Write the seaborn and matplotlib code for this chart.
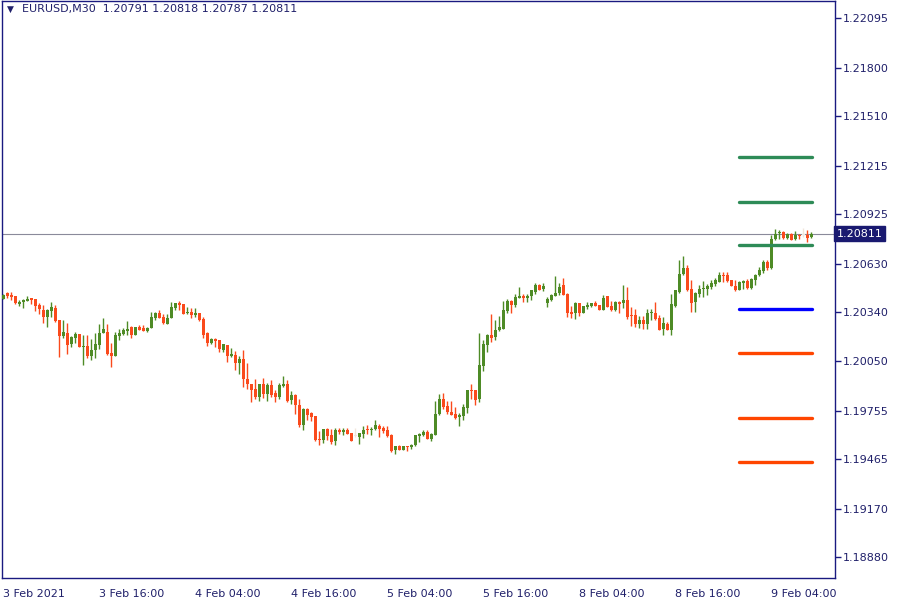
#EURUSD M30 candlestick chart with daily pivot levels

import numpy as np
import pandas as pd
import matplotlib
matplotlib.use("Agg")
import matplotlib.pyplot as plt
import seaborn as sns

# header text of the chart window
symbol = "EURUSD,M30"
last_ohlc = "1.20791 1.20818 1.20787 1.20811"

# OHLC of the M30 bars (bar 0 = first bar on the left)
opens = [
    1.20423, 1.20455, 1.20443, 1.20437, 1.20392, 1.20400, 1.20409, 1.20425, 1.20419, 1.20384,
    1.20354, 1.20314, 1.20350, 1.20366, 1.20294, 1.20201, 1.20216, 1.20153, 1.20189, 1.20210,
    1.20135, 1.20139, 1.20081, 1.20119, 1.20145, 1.20218, 1.20222, 1.20097, 1.20081, 1.20201,
    1.20210, 1.20228, 1.20252, 1.20204, 1.20252, 1.20248, 1.20230, 1.20248, 1.20308, 1.20336,
    1.20314, 1.20274, 1.20305, 1.20368, 1.20396, 1.20390, 1.20339, 1.20341, 1.20325, 1.20335,
    1.20301, 1.20217, 1.20159, 1.20181, 1.20173, 1.20118, 1.20146, 1.20080, 1.20086, 1.20038,
    1.20062, 1.19941, 1.19911, 1.19881, 1.19837, 1.19911, 1.19851, 1.19907, 1.19859, 1.19837,
    1.19903, 1.19913, 1.19817, 1.19847, 1.19787, 1.19668, 1.19763, 1.19738, 1.19722, 1.19584,
    1.19578, 1.19644, 1.19608, 1.19573, 1.19637, 1.19627, 1.19641, 1.19621, 1.19601, 1.19597,
    1.19617, 1.19647, 1.19637, 1.19643, 1.19663, 1.19653, 1.19641, 1.19607, 1.19518, 1.19542,
    1.19522, 1.19542, 1.19538, 1.19548, 1.19601, 1.19607, 1.19627, 1.19583, 1.19607, 1.19733,
    1.19822, 1.19780, 1.19747, 1.19733, 1.19717, 1.19721, 1.19770, 1.19876, 1.19876, 1.19822,
    1.20019, 1.20145, 1.20204, 1.20194, 1.20234, 1.20244, 1.20350, 1.20407, 1.20383, 1.20429,
    1.20437, 1.20429, 1.20439, 1.20463, 1.20503, 1.20483, 1.20397, 1.20417, 1.20439, 1.20459,
    1.20503, 1.20453, 1.20342, 1.20334, 1.20394, 1.20338, 1.20370, 1.20378, 1.20394, 1.20384,
    1.20354, 1.20437, 1.20378, 1.20354, 1.20404, 1.20394, 1.20417, 1.20324, 1.20324, 1.20274,
    1.20294, 1.20274, 1.20334, 1.20338, 1.20306, 1.20244, 1.20274, 1.20234, 1.20379, 1.20463,
    1.20572, 1.20606, 1.20479, 1.20403, 1.20453, 1.20479, 1.20483, 1.20493, 1.20509, 1.20523,
    1.20566, 1.20563, 1.20533, 1.20499, 1.20477, 1.20513, 1.20527, 1.20487, 1.20533, 1.20563,
    1.20588, 1.20642, 1.20606, 1.20777, 1.20817, 1.20821, 1.20785, 1.20811, 1.20777, 1.20801,
    1.20801, 1.20801, 1.20791,
]
highs = [
    1.20453, 1.20463, 1.20461, 1.20437, 1.20417, 1.20423, 1.20437, 1.20425, 1.20419, 1.20394,
    1.20384, 1.20360, 1.20402, 1.20384, 1.20294, 1.20294, 1.20280, 1.20199, 1.20224, 1.20214,
    1.20204, 1.20208, 1.20181, 1.20218, 1.20270, 1.20308, 1.20274, 1.20155, 1.20224, 1.20244,
    1.20246, 1.20288, 1.20260, 1.20252, 1.20268, 1.20264, 1.20254, 1.20344, 1.20344, 1.20354,
    1.20328, 1.20328, 1.20400, 1.20394, 1.20408, 1.20390, 1.20370, 1.20364, 1.20364, 1.20335,
    1.20311, 1.20225, 1.20189, 1.20189, 1.20173, 1.20149, 1.20146, 1.20130, 1.20110, 1.20080,
    1.20116, 1.20036, 1.19911, 1.19943, 1.19911, 1.19947, 1.19917, 1.19937, 1.19877, 1.19917,
    1.19960, 1.19937, 1.19871, 1.19853, 1.19821, 1.19771, 1.19773, 1.19748, 1.19722, 1.19632,
    1.19644, 1.19648, 1.19644, 1.19653, 1.19653, 1.19653, 1.19653, 1.19621, 1.19651, 1.19621,
    1.19661, 1.19667, 1.19657, 1.19697, 1.19673, 1.19663, 1.19661, 1.19613, 1.19542, 1.19552,
    1.19542, 1.19542, 1.19554, 1.19607, 1.19621, 1.19641, 1.19641, 1.19621, 1.19812, 1.19852,
    1.19860, 1.19812, 1.19812, 1.19776, 1.19741, 1.19796, 1.19876, 1.19912, 1.19876, 1.20218,
    1.20174, 1.20210, 1.20330, 1.20294, 1.20318, 1.20407, 1.20423, 1.20413, 1.20453, 1.20493,
    1.20453, 1.20449, 1.20473, 1.20513, 1.20509, 1.20513, 1.20433, 1.20453, 1.20557, 1.20513,
    1.20543, 1.20457, 1.20378, 1.20404, 1.20394, 1.20378, 1.20404, 1.20394, 1.20408, 1.20384,
    1.20443, 1.20437, 1.20408, 1.20408, 1.20408, 1.20503, 1.20489, 1.20374, 1.20358, 1.20318,
    1.20318, 1.20358, 1.20358, 1.20404, 1.20324, 1.20314, 1.20284, 1.20453, 1.20473, 1.20652,
    1.20676, 1.20622, 1.20533, 1.20463, 1.20503, 1.20527, 1.20507, 1.20533, 1.20543, 1.20582,
    1.20582, 1.20582, 1.20533, 1.20533, 1.20527, 1.20533, 1.20539, 1.20543, 1.20572, 1.20612,
    1.20652, 1.20652, 1.20801, 1.20837, 1.20831, 1.20825, 1.20817, 1.20817, 1.20825, 1.20811,
    1.20841, 1.20831, 1.20818,
]
lows = [
    1.20419, 1.20429, 1.20413, 1.20392, 1.20380, 1.20368, 1.20407, 1.20392, 1.20350, 1.20328,
    1.20280, 1.20254, 1.20314, 1.20284, 1.20075, 1.20185, 1.20095, 1.20135, 1.20155, 1.20135,
    1.20025, 1.20069, 1.20055, 1.20069, 1.20121, 1.20218, 1.20089, 1.20015, 1.20081, 1.20175,
    1.20206, 1.20204, 1.20189, 1.20204, 1.20234, 1.20230, 1.20224, 1.20248, 1.20296, 1.20308,
    1.20270, 1.20270, 1.20305, 1.20354, 1.20354, 1.20329, 1.20329, 1.20305, 1.20315, 1.20289,
    1.20189, 1.20140, 1.20149, 1.20136, 1.20106, 1.20106, 1.20046, 1.20076, 1.19996, 1.19970,
    1.19897, 1.19883, 1.19807, 1.19823, 1.19811, 1.19827, 1.19811, 1.19837, 1.19807, 1.19823,
    1.19895, 1.19807, 1.19791, 1.19734, 1.19658, 1.19638, 1.19698, 1.19692, 1.19572, 1.19549,
    1.19562, 1.19582, 1.19554, 1.19548, 1.19613, 1.19607, 1.19613, 1.19573, 1.19597, 1.19554,
    1.19593, 1.19617, 1.19607, 1.19637, 1.19597, 1.19621, 1.19597, 1.19508, 1.19494, 1.19522,
    1.19518, 1.19514, 1.19528, 1.19542, 1.19567, 1.19601, 1.19583, 1.19573, 1.19607, 1.19727,
    1.19766, 1.19737, 1.19727, 1.19707, 1.19661, 1.19697, 1.19743, 1.19826, 1.19786, 1.19806,
    1.19989, 1.20105, 1.20164, 1.20178, 1.20230, 1.20240, 1.20338, 1.20338, 1.20373, 1.20427,
    1.20403, 1.20403, 1.20413, 1.20453, 1.20473, 1.20467, 1.20373, 1.20409, 1.20437, 1.20447,
    1.20443, 1.20314, 1.20308, 1.20304, 1.20320, 1.20334, 1.20360, 1.20370, 1.20380, 1.20354,
    1.20354, 1.20374, 1.20348, 1.20348, 1.20334, 1.20364, 1.20304, 1.20258, 1.20254, 1.20250,
    1.20244, 1.20244, 1.20294, 1.20294, 1.20234, 1.20205, 1.20234, 1.20208, 1.20373, 1.20459,
    1.20562, 1.20469, 1.20340, 1.20344, 1.20433, 1.20433, 1.20447, 1.20483, 1.20499, 1.20519,
    1.20523, 1.20523, 1.20499, 1.20469, 1.20473, 1.20483, 1.20483, 1.20483, 1.20503, 1.20559,
    1.20578, 1.20592, 1.20602, 1.20771, 1.20781, 1.20781, 1.20777, 1.20771, 1.20771, 1.20781,
    1.20791, 1.20761, 1.20787,
]
closes = [
    1.20447, 1.20439, 1.20431, 1.20398, 1.20402, 1.20413, 1.20423, 1.20415, 1.20380, 1.20358,
    1.20314, 1.20354, 1.20372, 1.20288, 1.20201, 1.20222, 1.20145, 1.20193, 1.20210, 1.20135,
    1.20139, 1.20081, 1.20119, 1.20149, 1.20220, 1.20240, 1.20093, 1.20079, 1.20208, 1.20218,
    1.20234, 1.20244, 1.20204, 1.20252, 1.20234, 1.20230, 1.20246, 1.20312, 1.20334, 1.20308,
    1.20278, 1.20308, 1.20370, 1.20394, 1.20384, 1.20333, 1.20341, 1.20325, 1.20335, 1.20295,
    1.20207, 1.20159, 1.20181, 1.20169, 1.20124, 1.20149, 1.20080, 1.20092, 1.20040, 1.20062,
    1.19941, 1.19911, 1.19877, 1.19837, 1.19911, 1.19851, 1.19907, 1.19847, 1.19837, 1.19907,
    1.19913, 1.19811, 1.19847, 1.19787, 1.19668, 1.19767, 1.19728, 1.19718, 1.19578, 1.19580,
    1.19644, 1.19604, 1.19568, 1.19637, 1.19627, 1.19641, 1.19613, 1.19573, 1.19601, 1.19621,
    1.19641, 1.19637, 1.19647, 1.19667, 1.19647, 1.19631, 1.19601, 1.19514, 1.19542, 1.19522,
    1.19542, 1.19538, 1.19548, 1.19607, 1.19617, 1.19627, 1.19583, 1.19613, 1.19737, 1.19822,
    1.19776, 1.19747, 1.19727, 1.19713, 1.19727, 1.19776, 1.19876, 1.19872, 1.19816, 1.20025,
    1.20151, 1.20204, 1.20190, 1.20234, 1.20254, 1.20357, 1.20407, 1.20383, 1.20433, 1.20437,
    1.20429, 1.20437, 1.20473, 1.20503, 1.20477, 1.20497, 1.20419, 1.20443, 1.20455, 1.20493,
    1.20443, 1.20334, 1.20328, 1.20394, 1.20338, 1.20378, 1.20384, 1.20394, 1.20380, 1.20354,
    1.20429, 1.20374, 1.20354, 1.20400, 1.20388, 1.20417, 1.20314, 1.20320, 1.20274, 1.20294,
    1.20270, 1.20338, 1.20338, 1.20304, 1.20234, 1.20278, 1.20234, 1.20389, 1.20473, 1.20572,
    1.20606, 1.20473, 1.20397, 1.20457, 1.20479, 1.20487, 1.20499, 1.20517, 1.20533, 1.20566,
    1.20559, 1.20529, 1.20499, 1.20473, 1.20519, 1.20529, 1.20487, 1.20539, 1.20566, 1.20592,
    1.20642, 1.20606, 1.20781, 1.20811, 1.20821, 1.20785, 1.20811, 1.20771, 1.20801, 1.20797,
    1.20801, 1.20785, 1.20811,
]
# bars drawn very faint in the terminal
faint_bars = [88, 200]

# pivot levels of the current day (R3, R2, R1, P, S1, S2, S3)
level_names = ["R3", "R2", "R1", "P", "S1", "S2", "S3"]
level_values = [1.21265, 1.21002, 1.20740, 1.20358, 1.20096, 1.19708, 1.19446]
level_colors = ["#2e8b57", "#2e8b57", "#2e8b57", "#0000ff", "#ff4500", "#ff4500", "#ff4500"]
day_start_bar = 184

# axis ticks
price_ticks = [1.22095, 1.21800, 1.21510, 1.21215, 1.20925, 1.20630,
               1.20340, 1.20050, 1.19755, 1.19465, 1.19170, 1.18880]
time_tick_bars = [0, 24, 48, 72, 96, 120, 144, 168, 192]
time_labels = ["3 Feb 2021", "3 Feb 16:00", "4 Feb 04:00", "4 Feb 16:00", "5 Feb 04:00",
               "5 Feb 16:00", "8 Feb 04:00", "8 Feb 16:00", "9 Feb 04:00"]

sns.set_style("white")
plt.rcParams['font.family'] = ['DejaVu Sans']

bull = "#4e8b26"
bear = "#fa4a1c"
navy = "#1a1a80"
text_c = "#20206a"

df = pd.DataFrame({"open": opens, "high": highs, "low": lows, "close": closes})
df["bar"] = np.arange(len(df))
df["color"] = np.where(df["close"] >= df["open"], bull, bear)
df.loc[faint_bars, "color"] = "#f1e6dc"
df["body_lo"] = df[["open", "close"]].min(axis=1)
df["body_h"] = (df["close"] - df["open"]).abs().clip(lower=0.00006)

fig = plt.figure(figsize=(9, 6), dpi=100)
ax = fig.add_axes([0.002, 0.0367, 0.9256, 0.9613])

# current price line
last_price = closes[-1]
ax.axhline(last_price, color="#8a8a9a", linewidth=0.8, zorder=1)

# wicks and bodies
ax.vlines(df["bar"], df["low"], df["high"], colors=df["color"], linewidth=1.0, zorder=2)
ax.bar(df["bar"], df["body_h"], bottom=df["body_lo"], width=0.72,
       color=df["color"], linewidth=0, zorder=3)

# pivot levels
last_bar = len(df) - 1
lv = pd.DataFrame({
    "name": np.repeat(level_names, 2),
    "bar": [day_start_bar - 0.1, last_bar + 0.3] * len(level_names),
    "price": np.repeat(level_values, 2),
})
sns.lineplot(data=lv, x="bar", y="price", hue="name", palette=dict(zip(level_names, level_colors)),
             linewidth=2.4, legend=False, ax=ax, zorder=4)

ax.set_xlim(-0.33, 207.9)
ax.set_ylim(1.18756, 1.22197)

ax.yaxis.tick_right()
ax.set_yticks(price_ticks)
ax.set_yticklabels([f"{p:.5f}" for p in price_ticks])
ax.set_xticks(time_tick_bars)
ax.set_xticklabels(time_labels, ha="left")
for lab in ax.get_xticklabels():
    lab.set_x(lab.get_position()[0])
ax.tick_params(axis="both", direction="out", length=4, width=1, color=navy,
               labelcolor=text_c, labelsize=8, pad=2)
ax.tick_params(axis="x", pad=4)
for lab in ax.get_xticklabels():
    lab.set_horizontalalignment("left")
ax.set_xlabel("")
ax.set_ylabel("")
for s in ax.spines.values():
    s.set_color(navy)
    s.set_linewidth(1.0)

# header
ax.text(0.006, 0.986, "\u25bc", transform=ax.transAxes, fontsize=6.5, color=text_c,
        va="center", ha="left")
ax.text(0.024, 0.986, f"{symbol}  {last_ohlc}", transform=ax.transAxes, fontsize=8,
        color=text_c, va="center", ha="left")

# last price label on the price scale
ax.text(1.002, last_price, f"{last_price:.5f}", transform=ax.get_yaxis_transform(),
        fontsize=8, color="white", va="center", ha="left",
        bbox=dict(boxstyle="square,pad=0.25", facecolor="#191970", edgecolor="#191970"))

plt.savefig("out.png", dpi=100)
